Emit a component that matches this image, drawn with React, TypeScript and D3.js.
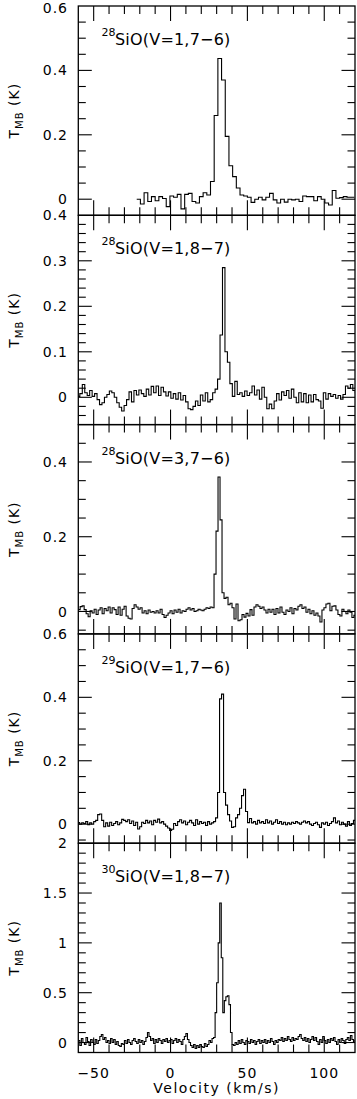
import React from 'react';
import * as d3 from 'd3';

// ---------- shared axis data ----------
const VEL_DOMAIN: [number, number] = [-60, 120];
const X_MAJOR = [-50, 0, 50, 100];
const X_MAJOR_LABELS = ['\u221250', '0', '50', '100'];
const X_MINOR = [-40, -30, -20, -10, 10, 20, 30, 40, 60, 70, 80, 90, 110];
const X_TITLE = 'Velocity (km/s)';

// ---------- panel 1 : 28SiO(V=1,7-6) ----------
const p1Iso = '28';
const p1Line = 'SiO(V=1,7\u22126)';
const p1Start = -22.0;
const p1Step = 2.4;
const p1Values = [
  0.0, -0.015, 0.02, -0.007, 0.008, -0.005, 0.008, 0.002, -0.023, 0.01,
  0.006, 0.015, -0.03, 0.015, 0.018, -0.007, -0.012, 0.008, 0.02, 0.013,
  0.055, 0.26, 0.437, 0.37, 0.195, 0.104, 0.07, 0.035, 0.013, 0.01,
  0.006, -0.01, 0.0, 0.006, -0.002, 0.006, 0.018, -0.002, -0.012, 0.0,
  -0.009, 0.0, -0.002, 0.0, -0.007, 0.01, 0.008, 0.008, -0.005, 0.008,
  0.0, -0.012, -0.018, 0.027, 0.003, 0.005, 0.008, 0.006, 0.006,
];
const p1Y: [number, number] = [-0.05, 0.6];
const p1Major = [0, 0.2, 0.4, 0.6];
const p1MajorLabels = ['0', '0.2', '0.4', '0.6'];
const p1MinorStep = 0.05;

// ---------- panel 2 : 28SiO(V=1,8-7) ----------
const p2Iso = '28';
const p2Line = 'SiO(V=1,8\u22127)';
const p2Start = -60.6;
const p2Step = 1.6;
const p2Values = [
  0.002, 0.008, 0.028, 0.01, 0.004, 0.015, 0.002, 0.008, -0.005, -0.016,
  -0.012, 0.0, 0.006, 0.014, 0.01, 0.0, -0.012, -0.022, -0.03, -0.018,
  -0.005, 0.012, -0.01, 0.015, 0.005, 0.016, 0.008, 0.002, 0.018, 0.005,
  0.024, 0.01, 0.025, 0.004, 0.022, 0.012, 0.003, 0.012, -0.002, 0.008,
  -0.004, 0.01, -0.006, 0.004, -0.01, -0.025, -0.027, -0.02, -0.008, -0.018,
  0.005, -0.008, 0.01, -0.01, -0.005, 0.01, 0.018, 0.04, 0.137, 0.285,
  0.1, 0.077, 0.03, 0.002, 0.035, 0.006, 0.01, 0.002, 0.014, 0.004,
  0.01, 0.025, 0.005, 0.016, -0.004, 0.022, 0.0, -0.025, -0.015, -0.025,
  -0.008, 0.008, -0.006, 0.012, 0.004, 0.015, -0.002, 0.018, 0.0, -0.012,
  0.01, -0.01, 0.008, -0.012, 0.005, -0.01, 0.006, -0.005, -0.008, -0.024,
  0.01, -0.004, 0.008, 0.002, 0.006, -0.002, 0.004, -0.004, 0.006, 0.025,
  0.02, 0.028, 0.015, 0.01,
];
const p2Y: [number, number] = [-0.06, 0.4];
const p2Major = [0, 0.1, 0.2, 0.3, 0.4];
const p2MajorLabels = ['0', '0.1', '0.2', '0.3', '0.4'];
const p2MinorStep = 0.02;

// ---------- panel 3 : 28SiO(V=3,7-6) ----------
const p3Iso = '28';
const p3Line = 'SiO(V=3,7\u22126)';
const p3Start = -60.1;
const p3Step = 1.3;
const p3Values = [
  0.005, 0.013, 0.015, 0.005, -0.006, -0.014, 0.002, -0.004, 0.006, -0.008,
  0.004, 0.01, -0.006, 0.008, 0.002, 0.012, -0.004, 0.01, 0.005, -0.008,
  0.012, -0.01, 0.006, 0.014, -0.012, -0.018, -0.02, 0.008, 0.018, 0.012,
  0.006, 0.01, -0.004, 0.002, -0.006, 0.004, -0.002, 0.0, -0.004, 0.002,
  -0.004, 0.006, -0.008, -0.016, -0.01, -0.004, 0.002, -0.006, 0.004, -0.002,
  0.006, -0.004, 0.002, 0.0, 0.006, 0.01, 0.004, 0.008, 0.0, 0.002,
  0.006, 0.004, 0.002, 0.006, 0.01, 0.008, 0.012, 0.01, 0.1, 0.215,
  0.36, 0.245, 0.05, 0.035, 0.038, 0.018, 0.022, 0.01, -0.02, 0.02,
  -0.025, -0.022, -0.008, -0.015, -0.005, -0.012, 0.005, -0.01, 0.012, 0.018,
  0.014, 0.008, 0.012, 0.004, -0.004, 0.006, -0.002, 0.006, -0.008, 0.008,
  -0.004, 0.012, -0.002, -0.008, 0.004, 0.0, 0.01, -0.006, 0.008, 0.004,
  0.014, 0.018, 0.008, 0.012, -0.002, 0.006, -0.006, 0.002, -0.01, -0.004,
  -0.012, -0.028, 0.004, 0.01, 0.02, 0.022, 0.002, 0.014, 0.015, 0.004,
  -0.008, -0.012, 0.006, 0.0, -0.006, 0.004, -0.002, -0.016, -0.01, -0.004,
];
const p3Y: [number, number] = [-0.06, 0.5];
const p3Major = [0, 0.2, 0.4];
const p3MajorLabels = ['0', '0.2', '0.4'];
const p3MinorStep = 0.05;

// ---------- panel 4 : 29SiO(V=1,7-6) ----------
const p4Iso = '29';
const p4Line = 'SiO(V=1,7\u22126)';
const p4Start = -60.4;
const p4Step = 1.3;
const p4Values = [
  0.005, 0.0, 0.004, 0.002, 0.008, -0.002, 0.004, 0.0, 0.008, 0.012,
  0.03, 0.032, 0.012, -0.008, 0.004, -0.006, 0.006, -0.004, 0.002, 0.008,
  -0.002, 0.004, 0.015, 0.012, 0.008, 0.014, 0.002, 0.01, -0.004, 0.006,
  -0.015, -0.008, 0.006, 0.002, 0.012, 0.004, 0.01, -0.002, 0.012, 0.006,
  0.016, 0.004, 0.008, 0.0, -0.006, -0.012, -0.02, -0.016, 0.002, -0.004,
  0.008, 0.014, 0.004, 0.01, -0.002, 0.006, 0.012, 0.004, -0.004, 0.014,
  0.0, 0.008, 0.002, 0.006, -0.004, 0.008, 0.0, 0.004, 0.008, 0.02,
  0.1, 0.395, 0.41, 0.1, 0.06, 0.03, 0.01, -0.01, -0.008, 0.02,
  0.03, 0.05, 0.09, 0.11, 0.04, 0.005, 0.018, 0.004, 0.008, 0.0,
  0.012, 0.004, 0.008, 0.002, 0.014, 0.004, 0.01, 0.0, 0.006, 0.014,
  0.002, 0.008, 0.0, 0.006, -0.002, 0.004, 0.0, 0.006, 0.002, 0.008,
  0.004, 0.0, 0.006, 0.01, 0.004, 0.008, 0.0, -0.004, 0.002, 0.006,
  -0.002, -0.01, 0.004, 0.0, 0.006, -0.004, 0.002, 0.008, 0.02, 0.004,
  0.01, -0.002, 0.006, 0.0, -0.006, 0.008, -0.004, 0.002, 0.012, 0.004,
  0.0,
];
const p4Y: [number, number] = [-0.06, 0.6];
const p4Major = [0, 0.2, 0.4, 0.6];
const p4MajorLabels = ['0', '0.2', '0.4', '0.6'];
const p4MinorStep = 0.05;

// ---------- panel 5 : 30SiO(V=1,8-7) ----------
const p5Iso = '30';
const p5Line = 'SiO(V=1,8\u22127)';
const p5Start = -60;
const p5Step = 1.0;
const p5Values = [
  0.02, -0.03, 0.04, 0.0, -0.02, 0.05, 0.01, -0.03, 0.03, 0.0, -0.02,
  0.03, -0.01, 0.02, 0.06, 0.08, 0.03, 0.05, 0.0, 0.02, -0.01,
  0.04, 0.0, 0.03, -0.02, 0.01, -0.03, -0.04, -0.01, -0.02, 0.02,
  -0.01, 0.03, 0.0, -0.02, 0.02, 0.04, 0.01, -0.01, 0.03, 0.0,
  0.02, -0.02, 0.01, 0.05, 0.1, 0.06, 0.02, 0.04, -0.01, 0.03,
  0.0, 0.04, 0.02, -0.01, 0.03, 0.01, 0.04, 0.0, 0.02, 0.03,
  -0.01, 0.02, 0.04, 0.0, 0.03, 0.01, -0.02, 0.03, 0.06, 0.09,
  0.03, 0.0, -0.03, -0.05, -0.02, -0.06, -0.03, -0.05, -0.02, -0.04,
  -0.05, -0.01, -0.04, -0.02, 0.02, 0.0, 0.04,
  0.05, 0.3, 0.6, 1.0, 1.4, 0.85, 0.3, 0.42, 0.46, 0.47, 0.38, 0.1, -0.02,
  -0.03, 0.0, -0.02, 0.02, -0.01, 0.03, 0.0, -0.02, 0.02, 0.01,
  -0.01, 0.03, 0.0, 0.02, -0.02, 0.01, 0.03, -0.01, 0.02, 0.0,
  0.03, -0.01, 0.02, 0.0, 0.04, 0.01, -0.02, 0.02, 0.0, 0.03,
  0.02, 0.05, 0.01, 0.04, 0.02, 0.06, 0.03, 0.01, 0.05, 0.02,
  0.04, 0.03, 0.06, 0.08, 0.04, 0.02, 0.05, 0.01, 0.04, 0.0,
  0.03, 0.06, 0.02, 0.05, 0.01, -0.02, 0.03, 0.0, 0.06, 0.02,
  -0.01, 0.03, 0.0, 0.04, 0.02, 0.05, 0.01, -0.02, 0.03, 0.0,
  0.04, 0.02, -0.01, 0.03, 0.05, 0.02, 0.07, 0.03, 0.0, 0.02,
];
const p5Y: [number, number] = [-0.1, 2];
const p5Major = [0, 0.5, 1, 1.5, 2];
const p5MajorLabels = ['0', '0.5', '1', '1.5', '2'];
const p5MinorStep = 0.1;

const Y_TITLE_MAIN = 'T';
const Y_TITLE_SUB = 'MB';
const Y_TITLE_UNIT = ' (K)';

// ---------- layout ----------
const W = 357;
const H = 1099;
const LEFT = 78.3;
const RIGHT = 355;
const TOP = 6;
const PANEL_H = 209.3;
const FONT = "'DejaVu Sans', sans-serif";

type Panel = {
  iso: string; line: string; start: number; step: number; values: number[];
  y: [number, number]; major: number[]; majorLabels: string[]; minorStep: number;
};

const panels: Panel[] = [
  { iso: p1Iso, line: p1Line, start: p1Start, step: p1Step, values: p1Values, y: p1Y, major: p1Major, majorLabels: p1MajorLabels, minorStep: p1MinorStep },
  { iso: p2Iso, line: p2Line, start: p2Start, step: p2Step, values: p2Values, y: p2Y, major: p2Major, majorLabels: p2MajorLabels, minorStep: p2MinorStep },
  { iso: p3Iso, line: p3Line, start: p3Start, step: p3Step, values: p3Values, y: p3Y, major: p3Major, majorLabels: p3MajorLabels, minorStep: p3MinorStep },
  { iso: p4Iso, line: p4Line, start: p4Start, step: p4Step, values: p4Values, y: p4Y, major: p4Major, majorLabels: p4MajorLabels, minorStep: p4MinorStep },
  { iso: p5Iso, line: p5Line, start: p5Start, step: p5Step, values: p5Values, y: p5Y, major: p5Major, majorLabels: p5MajorLabels, minorStep: p5MinorStep },
];

const x = d3.scaleLinear().domain(VEL_DOMAIN).range([LEFT, RIGHT]);

function PanelView({ p, idx }: { p: Panel; idx: number }) {
  const top = TOP + idx * PANEL_H;
  const bottom = top + PANEL_H;
  const y = d3.scaleLinear().domain(p.y).range([bottom, top]);
  const pts: [number, number][] = p.values.map((v, i) => [p.start + i * p.step, v]);
  pts.push([p.start + p.values.length * p.step, p.values[p.values.length - 1]]);
  const path = d3.line<[number, number]>()
    .x(d => x(d[0]))
    .y(d => y(d[1]))
    .curve(d3.curveStepAfter)(pts) || '';
  const first = Math.ceil(p.y[0] / p.minorStep - 1e-6);
  const last = Math.floor(p.y[1] / p.minorStep + 1e-6);
  const minor = d3.range(first, last + 1)
    .map(k => +(k * p.minorStep).toFixed(4))
    .filter(v => !p.major.some(m => Math.abs(m - v) < 1e-6) && v > p.y[0] + 1e-6 && v < p.y[1] - 1e-6);
  const clipId = `clip${idx}`;
  const isLast = idx === panels.length - 1;
  const mid = (top + bottom) / 2;
  const majY = 13.5, minY = 7.5, majX = 15, minX = 8;
  return (
    <g>
      <defs>
        <clipPath id={clipId}>
          <rect x={LEFT} y={top} width={RIGHT - LEFT} height={PANEL_H} />
        </clipPath>
      </defs>
      <path d={path} fill="none" stroke="#000" strokeWidth={1.1} clipPath={`url(#${clipId})`} />
      <rect x={LEFT} y={top} width={RIGHT - LEFT} height={PANEL_H} fill="none" stroke="#000" strokeWidth={1.3} />
      {/* y ticks */}
      {p.major.filter(v => v > p.y[0] && v < p.y[1]).map(v => (
        <g key={'ym' + v}>
          <line x1={LEFT} x2={LEFT + majY} y1={y(v)} y2={y(v)} stroke="#000" strokeWidth={1.1} />
          <line x1={RIGHT} x2={RIGHT - majY} y1={y(v)} y2={y(v)} stroke="#000" strokeWidth={1.1} />
        </g>
      ))}
      {minor.map(v => (
        <g key={'yn' + v}>
          <line x1={LEFT} x2={LEFT + minY} y1={y(v)} y2={y(v)} stroke="#000" strokeWidth={1.1} />
          <line x1={RIGHT} x2={RIGHT - minY} y1={y(v)} y2={y(v)} stroke="#000" strokeWidth={1.1} />
        </g>
      ))}
      {p.major.map((v, i) => (
        <text key={'yl' + v} x={68} y={Math.max(y(v), 7.5)} dy="0.36em" textAnchor="end" fontSize={14}
          letterSpacing={1} fontFamily={FONT} fill="#000">{p.majorLabels[i]}</text>
      ))}
      {/* x ticks top & bottom */}
      {X_MAJOR.map(v => (
        <g key={'xm' + v}>
          <line x1={x(v)} x2={x(v)} y1={top} y2={top + majX} stroke="#000" strokeWidth={1.1} />
          <line x1={x(v)} x2={x(v)} y1={bottom} y2={bottom - majX} stroke="#000" strokeWidth={1.1} />
        </g>
      ))}
      {X_MINOR.map(v => (
        <g key={'xn' + v}>
          <line x1={x(v)} x2={x(v)} y1={top} y2={top + minX} stroke="#000" strokeWidth={1.1} />
          <line x1={x(v)} x2={x(v)} y1={bottom} y2={bottom - minX} stroke="#000" strokeWidth={1.1} />
        </g>
      ))}
      {/* panel title */}
      <text x={101.5} y={top + 30} fontSize={11} fontFamily={FONT} fill="#000">{p.iso}</text>
      <text x={115} y={top + 39} fontSize={16} letterSpacing={0.2} fontFamily={FONT} fill="#000">{p.line}</text>
      {/* y title */}
      <text transform={`translate(19, ${mid}) rotate(-90)`} textAnchor="middle" fontSize={14}
        letterSpacing={1} fontFamily={FONT} fill="#000">
        {Y_TITLE_MAIN}<tspan fontSize={10} dy={4}>{Y_TITLE_SUB}</tspan><tspan dy={-4}>{Y_TITLE_UNIT}</tspan>
      </text>
      {isLast && X_MAJOR.map((v, i) => (
        <text key={'xl' + v} x={x(v)} y={bottom + 25} textAnchor="middle" fontSize={14}
          letterSpacing={1} fontFamily={FONT} fill="#000">{X_MAJOR_LABELS[i]}</text>
      ))}
      {isLast && (
        <text x={(LEFT + RIGHT) / 2} y={bottom + 40} textAnchor="middle" fontSize={14}
          letterSpacing={1.5} fontFamily={FONT} fill="#000">{X_TITLE}</text>
      )}
    </g>
  );
}

export default function App() {
  return (
    <svg width={W} height={H} viewBox={`0 0 ${W} ${H}`}
      style={{ position: 'absolute', left: 0, top: 0, background: '#fff' }}>
      <rect x={0} y={0} width={W} height={H} fill="#fff" />
      {panels.map((p, i) => <PanelView key={i} p={p} idx={i} />)}
    </svg>
  );
}
